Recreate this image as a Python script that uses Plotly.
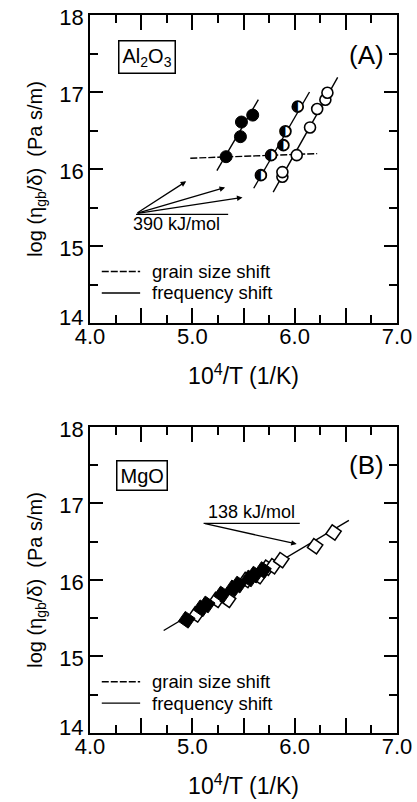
import plotly.graph_objects as go

# ---- Panel A: Al2O3 ----
al_fill_x = [5.33, 5.47, 5.48, 5.59]
al_fill_y = [16.16, 16.42, 16.61, 16.70]
al_half_x = [5.67, 5.77, 5.89, 5.91, 6.03]
al_half_y = [15.92, 16.18, 16.31, 16.49, 16.81]
al_open_x = [5.88, 5.88, 6.02, 6.15, 6.22, 6.30, 6.32]
al_open_y = [15.90, 15.96, 16.18, 16.54, 16.78, 16.90, 16.99]

# fitted frequency-shift lines (end points)
al_fit_fill_x = [5.24, 5.645]
al_fit_fill_y = [15.98, 16.90]
al_fit_half_x = [5.60, 6.145]
al_fit_half_y = [15.75, 17.00]
al_fit_open_x = [5.79, 6.42]
al_fit_open_y = [15.70, 17.19]
# grain size shift line
al_grain_x = [4.98, 6.22]
al_grain_y = [16.14, 16.20]

# ---- Panel B: MgO ----
mg_fill_x = [4.945, 5.09, 5.14, 5.29, 5.40, 5.45, 5.56, 5.61, 5.69]
mg_fill_y = [15.48, 15.63, 15.68, 15.81, 15.89, 15.94, 16.02, 16.07, 16.13]
mg_open_x = [5.04, 5.24, 5.35, 5.53, 5.65, 5.73, 5.79, 5.87, 6.20, 6.38]
mg_open_y = [15.55, 15.74, 15.74, 16.00, 16.05, 16.16, 16.18, 16.26, 16.44, 16.62]
mg_fit_x = [4.72, 6.53]
mg_fit_y = [15.34, 16.78]

x_tickvals = [4.0, 4.5, 5.0, 5.5, 6.0, 6.5, 7.0]
x_ticktext = ["4.0", "", "5.0", "", "6.0", "", "7.0"]
y_tickvals = [14, 15, 16, 17, 18]
# the bottom label (14) is set slightly above its tick, clear of the "4.0" label
y_ticktext = ["", "15", "16", "17", "18"]
y_bottom_label = "14"

legend_labels = ["grain size shift", "frequency shift"]

FONT = "Liberation Sans"
BLACK = "black"
LINE_W = 1.4
DASH = "7px,2px"
NBSP = "\u00a0"

fig = go.Figure()

# Panel A traces
fig.add_trace(go.Scatter(x=al_grain_x, y=al_grain_y, mode="lines", xaxis="x", yaxis="y",
                         line=dict(color=BLACK, width=LINE_W, dash=DASH),
                         name=legend_labels[0], showlegend=False))
for fx, fy in [(al_fit_fill_x, al_fit_fill_y), (al_fit_half_x, al_fit_half_y),
               (al_fit_open_x, al_fit_open_y)]:
    fig.add_trace(go.Scatter(x=fx, y=fy, mode="lines", xaxis="x", yaxis="y",
                             line=dict(color=BLACK, width=LINE_W),
                             name=legend_labels[1], showlegend=False))
fig.add_trace(go.Scatter(x=al_open_x, y=al_open_y, mode="markers", xaxis="x", yaxis="y",
                         marker=dict(symbol="circle", size=11, color="white",
                                     line=dict(color=BLACK, width=1.6)),
                         showlegend=False))
fig.add_trace(go.Scatter(x=al_half_x, y=al_half_y, mode="markers", xaxis="x", yaxis="y",
                         marker=dict(symbol="circle", size=11, color="white",
                                     line=dict(color=BLACK, width=1.6)),
                         showlegend=False))
fig.add_trace(go.Scatter(x=al_half_x, y=al_half_y, mode="text", xaxis="x", yaxis="y",
                         text=["\u25D0"] * len(al_half_x), textposition="middle center",
                         textfont=dict(family="DejaVu Sans", size=14, color=BLACK),
                         showlegend=False, hoverinfo="skip"))
fig.add_trace(go.Scatter(x=al_fill_x, y=al_fill_y, mode="markers", xaxis="x", yaxis="y",
                         marker=dict(symbol="circle", size=12, color=BLACK,
                                     line=dict(color=BLACK, width=1)),
                         showlegend=False))

# Panel B traces
fig.add_trace(go.Scatter(x=mg_fit_x, y=mg_fit_y, mode="lines", xaxis="x2", yaxis="y2",
                         line=dict(color=BLACK, width=LINE_W),
                         name=legend_labels[1], showlegend=False))
fig.add_trace(go.Scatter(x=mg_open_x, y=mg_open_y, mode="markers", xaxis="x2", yaxis="y2",
                         marker=dict(symbol="square", size=11, angle=35, color="white",
                                     line=dict(color=BLACK, width=1.5)),
                         showlegend=False))
fig.add_trace(go.Scatter(x=mg_fill_x, y=mg_fill_y, mode="markers", xaxis="x2", yaxis="y2",
                         marker=dict(symbol="square", size=12, angle=35, color=BLACK,
                                     line=dict(color=BLACK, width=1)),
                         showlegend=False))

TICK_FONT = dict(family=FONT, size=22, color=BLACK)
axis_common = dict(
    showline=True, linecolor=BLACK, linewidth=1.8, mirror="ticks",
    ticks="inside", tickwidth=1.5, tickcolor=BLACK,
    showgrid=False, zeroline=False, automargin=False,
    tickfont=TICK_FONT,
)
xaxis_common = dict(axis_common, range=[4.0, 7.0], tickmode="array",
                    tickvals=x_tickvals, ticktext=x_ticktext, ticklen=15,
                    ticklabelstandoff=-7,
                    minor=dict(dtick=0.25, tick0=4.0, ticks="inside", ticklen=8,
                               tickwidth=1.5, tickcolor=BLACK, showgrid=False),
                    title=dict(text="10<sup>4</sup>/T (1/K)", standoff=20,
                               font=dict(family=FONT, size=23, color=BLACK)))
yaxis_common = dict(axis_common, range=[14, 18], tickmode="array",
                    tickvals=y_tickvals, ticktext=y_ticktext, ticklen=13,
                    ticklabelshift=2,
                    minor=dict(dtick=0.5, tick0=14, ticks="inside", ticklen=8,
                               tickwidth=1.5, tickcolor=BLACK, showgrid=False),
                    title=dict(text=NBSP * 4 + "log (\u03b7<sub>gb</sub>/\u03b4)  (Pa s/m)",
                               standoff=11,
                               font=dict(family=FONT, size=20, color=BLACK)))

A_BOTTOM = 0.571
B_TOP = 0.4262

annotations = [
    dict(x=4.56, y=17.46, xref="x", yref="y", text="Al<sub>2</sub>O<sub>3</sub>",
         showarrow=False, font=dict(family=FONT, size=20, color=BLACK),
         bordercolor=BLACK, borderwidth=1.5, borderpad=3, bgcolor="white"),
    dict(x=6.70, y=17.48, xref="x", yref="y", text="(A)", showarrow=False,
         font=dict(family=FONT, size=26, color=BLACK)),
    dict(x=4.85, y=15.29, xref="x", yref="y", text="390 kJ/mol", showarrow=False,
         font=dict(family=FONT, size=18, color=BLACK)),
    dict(x=4.51, y=17.37, xref="x2", yref="y2", text="MgO", showarrow=False,
         font=dict(family=FONT, size=20, color=BLACK),
         bordercolor=BLACK, borderwidth=1.5, borderpad=3, bgcolor="white"),
    dict(x=6.70, y=17.50, xref="x2", yref="y2", text="(B)", showarrow=False,
         font=dict(family=FONT, size=26, color=BLACK)),
    dict(x=5.58, y=16.89, xref="x2", yref="y2", text="138 kJ/mol", showarrow=False,
         font=dict(family=FONT, size=18, color=BLACK)),
]

# bottom y tick label of each panel
for xr, yr in [("x", "y"), ("x2", "y2")]:
    annotations.append(dict(x=0, xref=xr + " domain", y=y_tickvals[0], yref=yr,
                            text=y_bottom_label, showarrow=False,
                            xanchor="right", yanchor="bottom", xshift=-5, yshift=-9,
                            font=TICK_FONT))

# activation-energy slope arrows
arrow_style = dict(showarrow=True, arrowhead=2, arrowsize=0.85, arrowwidth=1.3,
                   arrowcolor=BLACK, text="", standoff=0, startstandoff=0)
for tip in [(4.94, 15.84), (5.32, 15.76), (5.49, 15.63)]:
    annotations.append(dict(arrow_style, x=tip[0], y=tip[1], ax=4.45, ay=15.42,
                            xref="x", yref="y", axref="x", ayref="y"))
annotations.append(dict(arrow_style, x=6.02, y=16.47, ax=5.11, ay=16.74,
                        xref="x2", yref="y2", axref="x2", ayref="y2"))

shapes = [
    dict(type="line", xref="x", yref="y", x0=4.45, x1=5.35, y0=15.41, y1=15.41,
         line=dict(color=BLACK, width=1.3)),
    dict(type="line", xref="x2", yref="y2", x0=5.11, x1=6.05, y0=16.74, y1=16.74,
         line=dict(color=BLACK, width=1.3)),
]

# key (line sample + label) in the lower left corner of each panel
for xr, yr in [("x", "y"), ("x2", "y2")]:
    for label, dash, ypos in [(legend_labels[0], DASH, 14.67), (legend_labels[1], "solid", 14.39)]:
        shapes.append(dict(type="line", xref=xr, yref=yr, x0=4.115, x1=4.49, y0=ypos, y1=ypos,
                           line=dict(color=BLACK, width=LINE_W, dash=dash)))
        annotations.append(dict(x=4.585, y=ypos, xref=xr, yref=yr, text=label,
                                xanchor="left", yanchor="middle", showarrow=False,
                                font=dict(family=FONT, size=18.5, color=BLACK)))

fig.update_layout(
    width=417, height=802,
    margin=dict(l=90, r=20, t=15, b=69, autoexpand=False),
    paper_bgcolor="white", plot_bgcolor="white",
    font=dict(family=FONT, color=BLACK),
    showlegend=False,
    xaxis=dict(xaxis_common, anchor="y", domain=[0, 1]),
    yaxis=dict(yaxis_common, anchor="x", domain=[A_BOTTOM, 1.0]),
    xaxis2=dict(xaxis_common, anchor="y2", domain=[0, 1]),
    yaxis2=dict(yaxis_common, anchor="x2", domain=[0, B_TOP]),
    annotations=annotations,
    shapes=shapes,
)

fig.write_html("out.html")
